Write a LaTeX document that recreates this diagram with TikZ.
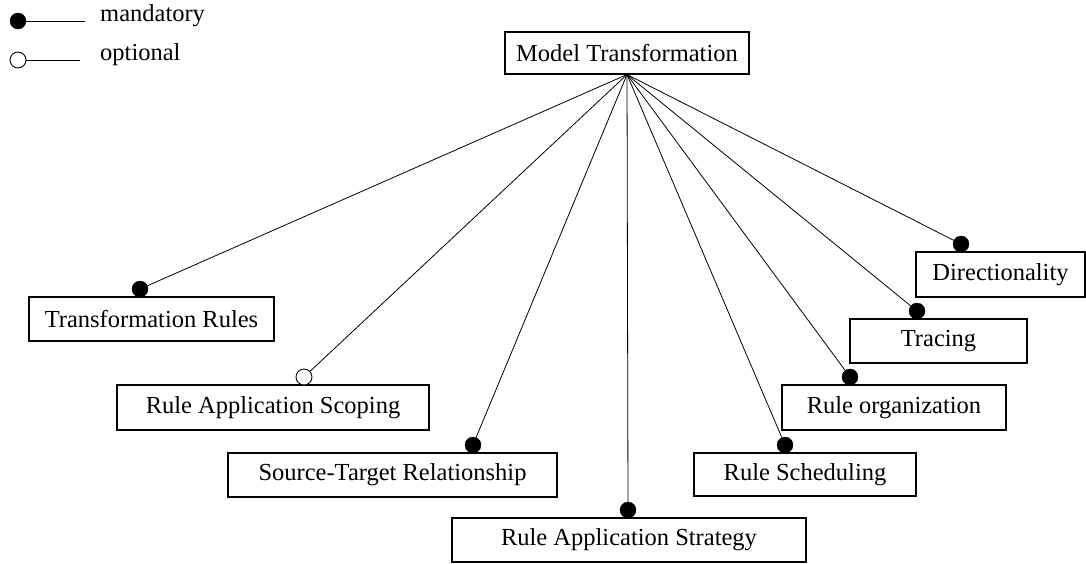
\documentclass[tikz,border=0pt]{standalone}
\usepackage{fontspec}
\setmainfont{Liberation Serif}
\begin{document}
\begin{tikzpicture}[x=1pt,y=-1pt,
  feature/.style={draw, line width=1.1pt, inner sep=0pt, font=\fontsize{24.5}{29}\selectfont},
  link/.style={line width=0.8pt},
  fdot/.style={circle, fill=black, draw=black, inner sep=0pt, minimum size=16pt},
  odot/.style={circle, fill=white, draw=black, line width=0.9pt, inner sep=0pt, minimum size=16pt},
  legtext/.style={anchor=west, inner sep=0pt, font=\fontsize{24.5}{29}\selectfont}]
\useasboundingbox (0,0) rectangle (1086,563);

% root concept
\node[feature, minimum width=244pt, minimum height=42pt] (mt) at (627,53) {Model Transformation};

% sub-features
\node[feature, minimum width=245pt, minimum height=44pt] (tr)   at (151.5,319) {Transformation Rules};
\node[feature, minimum width=312pt, minimum height=45pt] (ras)  at (273,407.5) {Rule Application Scoping};
\node[feature, minimum width=329pt, minimum height=44pt] (st)   at (392.5,475) {Source-Target Relationship};
\node[feature, minimum width=354pt, minimum height=44pt] (rast) at (629,540) {Rule Application Strategy};
\node[feature, minimum width=169pt, minimum height=45pt] (dir)  at (1000.5,274.5) {Directionality};
\node[feature, minimum width=177pt, minimum height=44pt] (trc)  at (938.5,341) {Tracing};
\node[feature, minimum width=224pt, minimum height=45pt] (ro)   at (894,407.5) {Rule organization};
\node[feature, minimum width=222pt, minimum height=43pt] (rs)   at (805,474.5) {Rule Scheduling};

% mandatory / optional markers
\node[fdot] (dtr)   at (140,289) {};
\node[odot] (dras)  at (304,377) {};
\node[fdot] (dst)   at (473,445) {};
\node[fdot] (drast) at (628,510) {};
\node[fdot] (ddir)  at (961,244) {};
\node[fdot] (dtrc)  at (917,311) {};
\node[fdot] (dro)   at (850,377) {};
\node[fdot] (drs)   at (785,445) {};

% connectors from the root
\foreach \d in {dtr,dras,dst,drast,ddir,dtrc,dro,drs}
  \draw[link] (mt.south) -- (\d);

% legend
\node[fdot] (lm) at (18,21) {};
\coordinate (lme) at (85,21);
\draw[link, line width=1pt] (lm) -- (lme);
\node[legtext] (lmt) at (100,16) {mandatory};
\node[odot] (lo) at (18,60) {};
\coordinate (loe) at (80,60);
\draw[link, line width=1pt] (lo) -- (loe);
\node[legtext] (lot) at (100,55) {optional};
\end{tikzpicture}
\end{document}
